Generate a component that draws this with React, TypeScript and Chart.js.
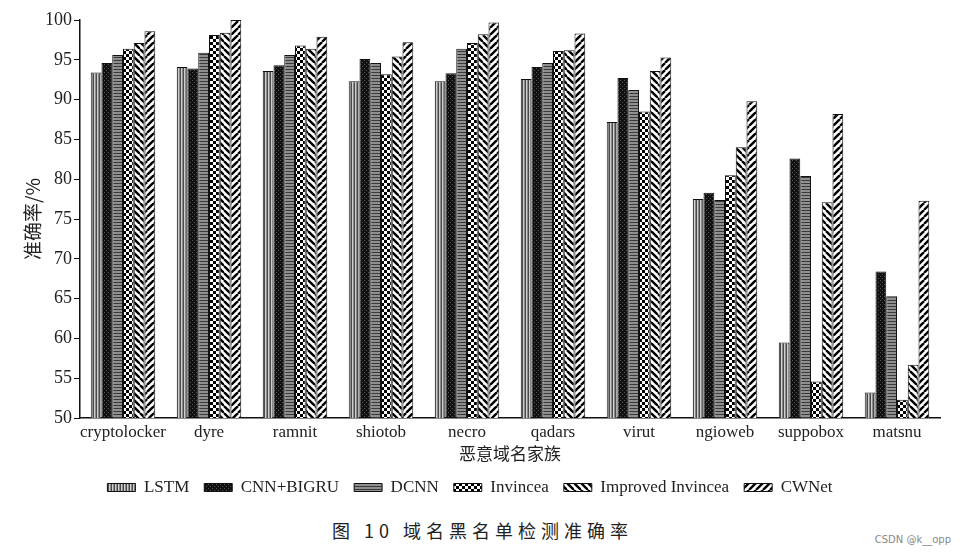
import React, { useEffect, useRef } from "react";
import { Chart, registerables } from "chart.js";
Chart.register(...registerables);

const categories = ["cryptolocker", "dyre", "ramnit", "shiotob", "necro", "qadars", "virut", "ngioweb", "suppobox", "matsnu"];
const seriesNames = ["LSTM", "CNN+BIGRU", "DCNN", "Invincea", "Improved Invincea", "CWNet"];
const lstm = [93.4, 94.1, 93.6, 92.3, 92.3, 92.6, 87.2, 77.5, 59.5, 53.2];
const cnnBigru = [94.6, 93.9, 94.3, 95.1, 93.3, 94.1, 92.7, 78.3, 82.6, 68.4];
const dcnn = [95.6, 95.9, 95.6, 94.6, 96.4, 94.6, 91.2, 77.4, 80.4, 65.3];
const invincea = [96.4, 98.1, 96.8, 93.2, 97.1, 96.1, 88.5, 80.5, 54.6, 52.3];
const improvedInvincea = [97.1, 98.4, 96.4, 95.4, 98.2, 96.2, 93.6, 84.0, 77.1, 56.7];
const cwnet = [98.6, 100, 97.9, 97.2, 99.7, 98.3, 95.3, 89.8, 88.2, 77.3];
const yMin = 50;
const yMax = 100;
const yStep = 5;
const xTitle = "恶意域名家族";
const yTitle = "准确率/%";
const caption = "图 10   域名黑名单检测准确率";

function makePattern(kind: string): CanvasPattern | string {
  const c = document.createElement("canvas");
  const ctx = c.getContext("2d");
  if (!ctx) return "#888";
  if (kind === "vstripe") {
    c.width = 3; c.height = 3;
    ctx.fillStyle = "#cfcfcf"; ctx.fillRect(0, 0, 3, 3);
    ctx.fillStyle = "#4a4a4a"; ctx.fillRect(0, 0, 1, 3);
    ctx.fillStyle = "#8a8a8a"; ctx.fillRect(2, 0, 1, 3);
  } else if (kind === "dots") {
    c.width = 4; c.height = 4;
    ctx.fillStyle = "#111"; ctx.fillRect(0, 0, 4, 4);
    ctx.fillStyle = "#555"; ctx.fillRect(0, 0, 1, 1); ctx.fillRect(2, 2, 1, 1);
  } else if (kind === "hstripe") {
    c.width = 3; c.height = 3;
    ctx.fillStyle = "#8f8f8f"; ctx.fillRect(0, 0, 3, 3);
    ctx.fillStyle = "#3a3a3a"; ctx.fillRect(0, 0, 3, 1);
  } else if (kind === "checker") {
    c.width = 6; c.height = 6;
    ctx.fillStyle = "#fff"; ctx.fillRect(0, 0, 6, 6);
    ctx.fillStyle = "#000"; ctx.fillRect(0, 0, 3, 3); ctx.fillRect(3, 3, 3, 3);
  } else if (kind === "back" || kind === "fwd") {
    const s = 7;
    c.width = s; c.height = s;
    ctx.fillStyle = "#fff"; ctx.fillRect(0, 0, s, s);
    ctx.strokeStyle = "#000"; ctx.lineWidth = 2.4;
    for (const o of [-s, 0, s]) {
      ctx.beginPath();
      if (kind === "back") { ctx.moveTo(o, 0); ctx.lineTo(o + s, s); }
      else { ctx.moveTo(o, s); ctx.lineTo(o + s, 0); }
      ctx.stroke();
    }
  }
  return ctx.createPattern(c, "repeat") || "#888";
}

export default function App() {
  const ref = useRef<HTMLCanvasElement | null>(null);
  useEffect(() => {
    if (!ref.current) return;
    const kinds = ["vstripe", "dots", "hstripe", "checker", "back", "fwd"];
    const values = [lstm, cnnBigru, dcnn, invincea, improvedInvincea, cwnet];
    const serif = "'Liberation Serif', 'DejaVu Serif', serif";
    const cjk = "'Noto Sans CJK SC', sans-serif";
    const chart = new Chart(ref.current, {
      type: "bar",
      data: {
        labels: categories,
        datasets: seriesNames.map((n, i) => ({
          label: n,
          data: values[i],
          backgroundColor: makePattern(kinds[i]) as any,
          borderColor: "#111",
          borderWidth: 1,
          barPercentage: 1,
          categoryPercentage: 0.75,
        })),
      },
      options: {
        animation: false,
        responsive: false,
        layout: { padding: { top: 20, right: 25, left: 0, bottom: 0 } },
        plugins: {
          tooltip: { enabled: false },
          legend: {
            position: "bottom",
            labels: {
              boxWidth: 28,
              boxHeight: 8,
              padding: 15,
              color: "#222",
              font: { family: serif, size: 17 },
            },
          },
        },
        scales: {
          x: {
            grid: { display: false, drawTicks: false },
            border: { color: "#111", width: 1.5 },
            ticks: { color: "#222", font: { family: serif, size: 17 }, padding: 4, maxRotation: 0, autoSkip: false },
            title: { display: true, text: xTitle, color: "#222", font: { family: cjk, size: 17 }, padding: 0 },
            afterFit: (s: any) => { s.height = 46; },
          },
          y: {
            min: yMin,
            max: yMax,
            ticks: { stepSize: yStep, color: "#222", font: { family: serif, size: 18 }, padding: 2 },
            grid: { drawOnChartArea: false, drawTicks: true, tickLength: 6, color: "#111" },
            border: { color: "#111", width: 1.5 },
            title: { display: true, text: yTitle, color: "#222", font: { family: cjk, size: 19 }, padding: { top: 21, bottom: 0 } },
            afterFit: (s: any) => { s.width = 80; },
          },
        },
      },
    });
    return () => chart.destroy();
  }, []);
  return (
    <div style={{ position: "fixed", left: 0, top: 0, width: 965, height: 556, background: "#fff" }}>
      <canvas ref={ref} width={965} height={506} style={{ display: "block" }} />
      <div style={{ position: "absolute", left: 0, width: 965, top: 517, textAlign: "center", fontFamily: "'Noto Sans CJK SC', sans-serif", fontSize: 18, letterSpacing: 5, color: "#222" }}>
        {caption}
      </div>
      <div style={{ position: "absolute", right: 14, top: 534, fontFamily: "'DejaVu Sans', sans-serif", fontSize: 10, color: "#888" }}>
        CSDN @k__opp
      </div>
    </div>
  );
}
